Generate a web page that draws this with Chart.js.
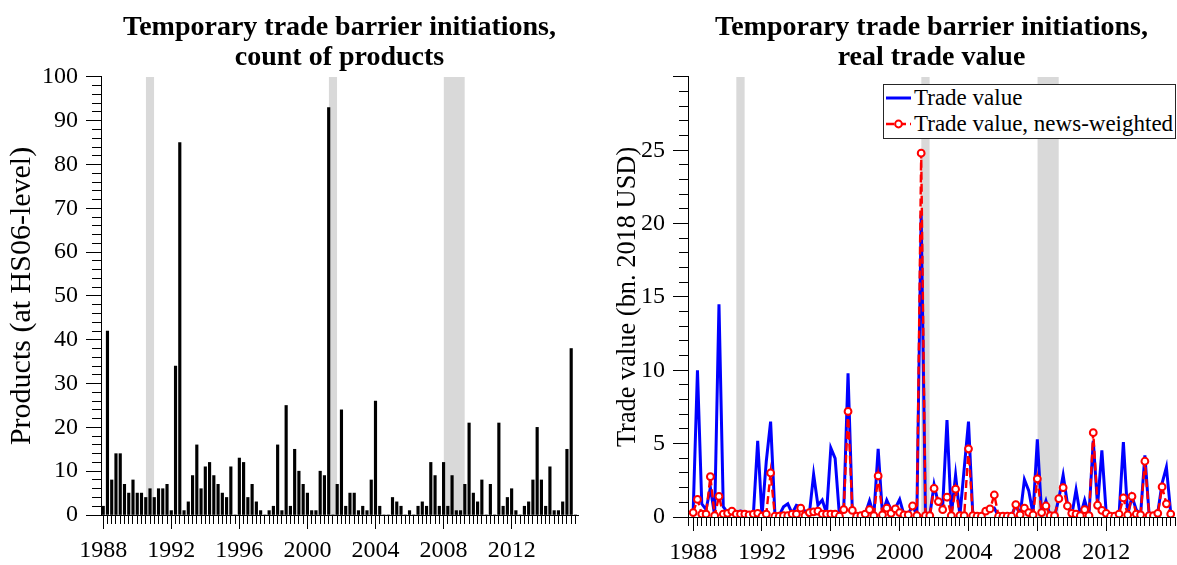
<!DOCTYPE html>
<html>
<head>
<meta charset="utf-8">
<script src="https://cdn.jsdelivr.net/npm/chart.js@4.4.0/dist/chart.umd.min.js"></script>
<style>
  html, body { margin: 0; padding: 0; background: #fff; overflow: hidden; width: 1177px; height: 565px; }
  .panel { position: absolute; top: 0; height: 565px; }
  #left { left: 0; width: 590px; }
  #right { left: 590px; width: 592px; }
  #legend {
    position: absolute; left: 883px; top: 84px; width: 293px; height: 55px;
    box-sizing: border-box; border: 1px solid #262626; background: #fff;
    font-family: 'Liberation Serif', serif; font-size: 23px; color: #000;
  }
  #legend .item { display: flex; align-items: center; height: 26px; padding-left: 2px; white-space: nowrap; }
  #legend svg { margin-right: 3px; flex: none; }
</style>
</head>
<body>
<div class="panel" id="left"><canvas id="countChart"></canvas></div>
<div class="panel" id="right"><canvas id="valueChart"></canvas></div>
<div id="legend"></div>
<script>
// quarters 1988Q1 .. 2015Q4
const startYear = 1988
const quarterYears = Array.from({length: 112}, (_, i) => startYear + i / 4)
const yearLabels = [1988, 1992, 1996, 2000, 2004, 2008, 2012]
const countLabels = [0, 10, 20, 30, 40, 50, 60, 70, 80, 90, 100]
const valueLabels = [0, 5, 10, 15, 20, 25]
// recession periods (shaded), in years
const recessions = [[1990.5, 1991.0], [2001.25, 2001.75], [2008.0, 2009.25]]

// products (HS06) with a temporary trade barrier initiation, per quarter
const productCounts = [
  2, 42, 8, 14, 14, 7, 5, 8, 5, 5,
  4, 6, 4, 6, 6, 7, 1, 34, 85, 1,
  3, 9, 16, 6, 11, 12, 9, 7, 5, 4,
  11, 0, 13, 12, 4, 7, 3, 1, 0, 1,
  2, 16, 1, 25, 2, 15, 10, 7, 5, 1,
  1, 10, 9, 93, 0, 7, 24, 2, 5, 5,
  1, 2, 1, 8, 26, 2, 0, 0, 4, 3,
  2, 0, 1, 0, 2, 3, 2, 12, 9, 2,
  12, 2, 9, 1, 1, 7, 21, 5, 3, 8,
  0, 7, 0, 21, 2, 4, 6, 1, 0, 2,
  3, 8, 20, 8, 2, 11, 1, 1, 3, 15,
  38, 0
]

// real trade value, bn. 2018 USD
const tradeValue = [
  0.35, 10.0, 0.9, 0.5, 2.0, 0.1, 14.5, 0.7, 0.3, 0.4,
  0.35, 0.4, 0.35, 0.3, 0.2, 5.2, 0.05, 3.8, 6.5, 0.2,
  0.1, 0.7, 0.9, 0.25, 0.8, 0.7, 0.4, 0.2, 2.9, 0.8,
  1.15, 0.25, 4.7, 4.0, 0.1, 0.5, 9.8, 0.4, 0.05, 0.1,
  0.2, 1.1, 0.1, 4.65, 0.2, 1.15, 0.5, 0.6, 1.2, 0.15,
  0.2, 0.8, 0.1, 20.6, 0.1, 0.1, 2.2, 0.9, 0.7, 6.6,
  0.1, 2.85, 0.1, 3.3, 6.5, 0.15, 0.05, 0.05, 0.3, 0.5,
  0.6, 0.05, 0.05, 0.05, 0.05, 0.85, 0.1, 2.55, 1.8, 0.2,
  5.3, 0.2, 1.1, 0.05, 0.05, 1.25, 2.85, 0.9, 0.1, 1.85,
  0.1, 1.15, 0.1, 5.2, 0.75, 4.55, 0.3, 0.05, 0.05, 0.15,
  5.1, 0.15, 1.4, 0.5, 0.15, 4.2, 0.1, 0.1, 0.3, 2.3,
  3.4, 0.3
]

const tradeValueNews = [
  0.3, 1.2, 0.2, 0.2, 2.75, 0.1, 1.4, 0.2, 0.25, 0.4,
  0.2, 0.2, 0.2, 0.15, 0.2, 0.25, 0.05, 0.2, 3.0, 0.05,
  0.05, 0.1, 0.1, 0.2, 0.2, 0.6, 0.1, 0.3, 0.35, 0.4,
  0.2, 0.2, 0.2, 0.2, 0.05, 0.5, 7.2, 0.45, 0.05, 0.1,
  0.2, 0.5, 0.1, 2.8, 0.15, 0.6, 0.25, 0.55, 0.3, 0.15,
  0.15, 0.75, 0.1, 24.8, 0.1, 0.1, 1.95, 1.05, 0.5, 1.35,
  0.1, 1.9, 0.1, 0.1, 4.65, 0.1, 0.05, 0.05, 0.4, 0.55,
  1.5, 0.05, 0.05, 0.05, 0.05, 0.85, 0.15, 0.6, 0.3, 0.15,
  2.6, 0.3, 0.75, 0.1, 0.1, 1.25, 2.0, 0.75, 0.25, 0.2,
  0.1, 0.5, 0.1, 5.75, 0.8, 0.45, 0.25, 0.05, 0.05, 0.2,
  1.3, 0.15, 1.4, 0.2, 0.15, 3.8, 0.1, 0.1, 0.25, 2.05,
  0.9, 0.2
]

const serif = 'Liberation Serif'
const toPoints = values => values.map((v, i) => ({x: quarterYears[i], y: v}))

/**
 * bandes grises des recessions, une dataset par periode
 */
function shadeSets(top) {
  return recessions.map(r => ({
    type: 'line',
    isShade: true,
    data: [{x: r[0], y: top}, {x: r[1], y: top}],
    fill: 'origin',
    backgroundColor: '#d9d9d9',
    borderWidth: 0,
    pointRadius: 0,
    order: 10
  }))
}

function xAxis(min, max, height) {
  return {
    type: 'linear',
    min: min,
    max: max,
    offset: false,
    afterFit: scale => { scale.height = height },
    border: { display: true, color: '#000', width: 1 },
    grid: {
      offset: false,
      drawOnChartArea: false,
      tickLength: 14,
      tickColor: '#000',
      tickBorderDash: c => (c.tick && yearLabels.includes(c.tick.value)) ? [] : [8, 100]
    },
    ticks: {
      stepSize: 0.25,
      autoSkip: false,
      maxRotation: 0,
      includeBounds: false,
      padding: 7,
      color: '#000',
      font: { family: serif, size: 24 },
      callback: v => yearLabels.includes(v) ? String(v) : ''
    }
  }
}

function yAxis(max, step, major, labels, title, titleSize, titlePad, width) {
  return {
    min: 0,
    max: max,
    afterFit: scale => { scale.width = width },
    border: { display: true, color: '#000', width: 1 },
    grid: {
      drawOnChartArea: false,
      tickLength: 15,
      tickColor: '#000',
      tickBorderDash: c => (c.tick && c.tick.value % major === 0) ? [] : [0, 6, 9, 0]
    },
    ticks: {
      stepSize: step,
      autoSkip: false,
      padding: 8,
      color: '#000',
      font: { family: serif, size: 24 },
      callback: v => labels.includes(v) ? String(v) : ''
    },
    title: {
      display: true,
      text: title,
      color: '#000',
      font: { family: serif, size: titleSize },
      padding: { top: titlePad, bottom: 0 }
    }
  }
}

function titleOpts(lines) {
  return {
    display: true,
    text: lines,
    fullSize: false,
    color: '#000',
    font: { family: serif, size: 28, weight: 'bold', lineHeight: 1.07 },
    padding: { top: 13, bottom: 4 }
  }
}

new Chart(document.getElementById('countChart'), {
  type: 'bar',
  data: {
    datasets: [{
      label: 'Products',
      data: toPoints(productCounts),
      backgroundColor: '#000',
      borderWidth: 0,
      barThickness: 2.5,
      order: 1
    }, ...shadeSets(100)]
  },
  options: {
    responsive: true,
    maintainAspectRatio: false,
    animation: false,
    layout: { padding: { left: 0, right: 12, top: 0, bottom: 0 } },
    scales: {
      x: xAxis(1987.87, 2015.9, 50),
      y: yAxis(100, 2, 10, countLabels, 'Products (at HS06-level)', 30, 4.5, 101)
    },
    plugins: {
      legend: { display: false },
      tooltip: { enabled: false },
      title: titleOpts(['Temporary trade barrier initiations,', 'count of products'])
    }
  }
})

const valueChart = new Chart(document.getElementById('valueChart'), {
  type: 'line',
  data: {
    datasets: [{
      label: 'Trade value',
      data: toPoints(tradeValue),
      borderColor: '#0000ff',
      borderWidth: 3,
      pointRadius: 0,
      tension: 0,
      order: 2
    }, {
      label: 'Trade value, news-weighted',
      data: toPoints(tradeValueNews),
      borderColor: '#ff0000',
      borderWidth: 2.4,
      borderDash: [8, 4],
      pointRadius: 3.4,
      pointBorderWidth: 2,
      pointBorderColor: '#ff0000',
      pointBackgroundColor: '#fff',
      tension: 0,
      order: 1
    }, ...shadeSets(30)]
  },
  options: {
    responsive: true,
    maintainAspectRatio: false,
    animation: false,
    layout: { padding: { left: 0, right: 0, top: 0, bottom: 0 } },
    scales: {
      x: xAxis(1987.7, 2016.0, 48),
      y: yAxis(30, 1, 5, valueLabels, 'Trade value (bn. 2018 USD)', 26.4, 22, 98)
    },
    plugins: {
      legend: { display: false },
      tooltip: { enabled: false },
      title: titleOpts(['Temporary trade barrier initiations,', 'real trade value'])
    }
  }
})

// legende html construite depuis les datasets
const legendElem = document.getElementById('legend')
valueChart.data.datasets.filter(d => !d.isShade).forEach(d => {
  const item = document.createElement('div')
  item.className = 'item'
  const dash = d.borderDash ? d.borderDash.join(' ') : 'none'
  let svg = '<svg width="25" height="26" viewBox="0 0 25 26">'
    + '<line x1="0" y1="13" x2="25" y2="13" stroke="' + d.borderColor + '" stroke-width="' + d.borderWidth + '" stroke-dasharray="' + dash + '"/>'
  if (d.pointRadius) {
    svg += '<circle cx="12.5" cy="13" r="' + d.pointRadius + '" fill="' + d.pointBackgroundColor + '" stroke="' + d.pointBorderColor + '" stroke-width="' + d.pointBorderWidth + '"/>'
  }
  svg += '</svg>'
  item.innerHTML = svg + '<span>' + d.label + '</span>'
  legendElem.appendChild(item)
})
</script>
</body>
</html>
